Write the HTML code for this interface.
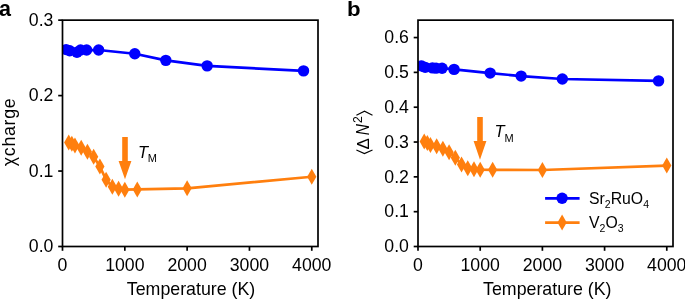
<!DOCTYPE html><html><head><meta charset="utf-8"><style>html,body{margin:0;padding:0;background:#fff;}svg{display:block;will-change:transform;}text{font-family:"Liberation Sans", sans-serif;fill:#000;}</style></head><body>
<svg width="685" height="299" viewBox="0 0 685 299">
<rect width="685" height="299" fill="#fff"/>
<text x="-1.0" y="15.7" font-size="21.5" font-weight="bold">a</text>
<text transform="translate(346.9,15.7) scale(1.07,1)" font-size="20.8" font-weight="bold">b</text>
<line x1="62.5" y1="246.5" x2="62.5" y2="250.8" stroke="#000" stroke-width="1.7"/>
<text x="62.5" y="271.4" text-anchor="middle" font-size="17.7">0</text>
<line x1="124.82" y1="246.5" x2="124.82" y2="250.8" stroke="#000" stroke-width="1.7"/>
<text x="124.82" y="271.4" text-anchor="middle" font-size="17.7">1000</text>
<line x1="187.13" y1="246.5" x2="187.13" y2="250.8" stroke="#000" stroke-width="1.7"/>
<text x="187.13" y="271.4" text-anchor="middle" font-size="17.7">2000</text>
<line x1="249.45" y1="246.5" x2="249.45" y2="250.8" stroke="#000" stroke-width="1.7"/>
<text x="249.45" y="271.4" text-anchor="middle" font-size="17.7">3000</text>
<line x1="311.77" y1="246.5" x2="311.77" y2="250.8" stroke="#000" stroke-width="1.7"/>
<text x="311.77" y="271.4" text-anchor="middle" font-size="17.7">4000</text>
<line x1="58.2" y1="246.5" x2="62.5" y2="246.5" stroke="#000" stroke-width="1.7"/>
<text x="53.4" y="252.2" text-anchor="end" font-size="17.7">0.0</text>
<line x1="58.2" y1="171.05" x2="62.5" y2="171.05" stroke="#000" stroke-width="1.7"/>
<text x="53.4" y="176.75" text-anchor="end" font-size="17.7">0.1</text>
<line x1="58.2" y1="95.6" x2="62.5" y2="95.6" stroke="#000" stroke-width="1.7"/>
<text x="53.4" y="101.3" text-anchor="end" font-size="17.7">0.2</text>
<line x1="58.2" y1="20.15" x2="62.5" y2="20.15" stroke="#000" stroke-width="1.7"/>
<text x="53.4" y="25.85" text-anchor="end" font-size="17.7">0.3</text>
<text x="191.05" y="294.5" text-anchor="middle" font-size="17.8">Temperature (K)</text>
<defs><clipPath id="ca"><rect x="62.5" y="20.15" width="255.5" height="226.35"/></clipPath><clipPath id="cb"><rect x="418.0" y="20.15" width="255" height="226.35"/></clipPath></defs>
<g clip-path="url(#ca)">
<polyline points="68.73,142.53 71.85,143.74 74.96,145.55 81.2,147.66 87.43,151.73 93.66,156.71 99.89,166.6 106.12,179.73 112.35,186.74 118.59,188.71 124.82,189.69 137.28,189.38 187.13,188.33 311.77,176.78" fill="none" stroke="#ff7f0e" stroke-width="2.7" stroke-linejoin="round"/>
<polygon points="68.73,134.53 73.33,142.53 68.73,150.53 64.13,142.53" fill="#ff7f0e"/>
<polygon points="71.85,135.74 76.45,143.74 71.85,151.74 67.25,143.74" fill="#ff7f0e"/>
<polygon points="74.96,137.55 79.56,145.55 74.96,153.55 70.36,145.55" fill="#ff7f0e"/>
<polygon points="81.2,139.66 85.8,147.66 81.2,155.66 76.6,147.66" fill="#ff7f0e"/>
<polygon points="87.43,143.73 92.03,151.73 87.43,159.73 82.83,151.73" fill="#ff7f0e"/>
<polygon points="93.66,148.71 98.26,156.71 93.66,164.71 89.06,156.71" fill="#ff7f0e"/>
<polygon points="99.89,158.6 104.49,166.6 99.89,174.6 95.29,166.6" fill="#ff7f0e"/>
<polygon points="106.12,171.73 110.72,179.73 106.12,187.73 101.52,179.73" fill="#ff7f0e"/>
<polygon points="112.35,178.74 116.95,186.74 112.35,194.74 107.75,186.74" fill="#ff7f0e"/>
<polygon points="118.59,180.71 123.19,188.71 118.59,196.71 113.99,188.71" fill="#ff7f0e"/>
<polygon points="124.82,181.69 129.42,189.69 124.82,197.69 120.22,189.69" fill="#ff7f0e"/>
<polygon points="137.28,181.38 141.88,189.38 137.28,197.38 132.68,189.38" fill="#ff7f0e"/>
<polygon points="187.13,180.33 191.73,188.33 187.13,196.33 182.53,188.33" fill="#ff7f0e"/>
<polygon points="311.77,168.78 316.37,176.78 311.77,184.78 307.17,176.78" fill="#ff7f0e"/>
<polyline points="66.11,49.58 69.73,50.71 76.96,52.22 80.57,49.95 86.62,50.03 98.64,50.03 134.79,53.73 165.82,60.36 207.14,65.87 303.54,70.85" fill="none" stroke="#0000ff" stroke-width="2.7" stroke-linejoin="round"/>
<circle cx="66.11" cy="49.58" r="5.7" fill="#0000ff"/>
<circle cx="69.73" cy="50.71" r="5.7" fill="#0000ff"/>
<circle cx="76.96" cy="52.22" r="5.7" fill="#0000ff"/>
<circle cx="80.57" cy="49.95" r="5.7" fill="#0000ff"/>
<circle cx="86.62" cy="50.03" r="5.7" fill="#0000ff"/>
<circle cx="98.64" cy="50.03" r="5.7" fill="#0000ff"/>
<circle cx="134.79" cy="53.73" r="5.7" fill="#0000ff"/>
<circle cx="165.82" cy="60.36" r="5.7" fill="#0000ff"/>
<circle cx="207.14" cy="65.87" r="5.7" fill="#0000ff"/>
<circle cx="303.54" cy="70.85" r="5.7" fill="#0000ff"/>
</g>
<rect x="62.5" y="20.15" width="255.5" height="226.35" fill="none" stroke="#000" stroke-width="1.7"/>
<polygon points="122.2,137.0 127.8,137.0 127.8,161.0 131.4,161.0 125,179.3 118.6,161.0 122.2,161.0" fill="#ff7f0e"/>
<text x="138.1" y="157.7" font-size="16.5" font-style="italic">T</text>
<text x="147.8" y="162.3" font-size="11">M</text>
<text transform="translate(15,131.9) rotate(-90)" text-anchor="middle" font-size="17.8" letter-spacing="0.72">χcharge</text>
<line x1="418" y1="246.5" x2="418" y2="250.8" stroke="#000" stroke-width="1.7"/>
<text x="418" y="271.4" text-anchor="middle" font-size="17.7">0</text>
<line x1="480.2" y1="246.5" x2="480.2" y2="250.8" stroke="#000" stroke-width="1.7"/>
<text x="480.2" y="271.4" text-anchor="middle" font-size="17.7">1000</text>
<line x1="542.39" y1="246.5" x2="542.39" y2="250.8" stroke="#000" stroke-width="1.7"/>
<text x="542.39" y="271.4" text-anchor="middle" font-size="17.7">2000</text>
<line x1="604.59" y1="246.5" x2="604.59" y2="250.8" stroke="#000" stroke-width="1.7"/>
<text x="604.59" y="271.4" text-anchor="middle" font-size="17.7">3000</text>
<line x1="666.78" y1="246.5" x2="666.78" y2="250.8" stroke="#000" stroke-width="1.7"/>
<text x="666.78" y="271.4" text-anchor="middle" font-size="17.7">4000</text>
<line x1="413.7" y1="246.5" x2="418.0" y2="246.5" stroke="#000" stroke-width="1.7"/>
<text x="408.9" y="252.2" text-anchor="end" font-size="17.7">0.0</text>
<line x1="413.7" y1="211.68" x2="418.0" y2="211.68" stroke="#000" stroke-width="1.7"/>
<text x="408.9" y="217.38" text-anchor="end" font-size="17.7">0.1</text>
<line x1="413.7" y1="176.85" x2="418.0" y2="176.85" stroke="#000" stroke-width="1.7"/>
<text x="408.9" y="182.55" text-anchor="end" font-size="17.7">0.2</text>
<line x1="413.7" y1="142.03" x2="418.0" y2="142.03" stroke="#000" stroke-width="1.7"/>
<text x="408.9" y="147.73" text-anchor="end" font-size="17.7">0.3</text>
<line x1="413.7" y1="107.21" x2="418.0" y2="107.21" stroke="#000" stroke-width="1.7"/>
<text x="408.9" y="112.91" text-anchor="end" font-size="17.7">0.4</text>
<line x1="413.7" y1="72.38" x2="418.0" y2="72.38" stroke="#000" stroke-width="1.7"/>
<text x="408.9" y="78.08" text-anchor="end" font-size="17.7">0.5</text>
<line x1="413.7" y1="37.56" x2="418.0" y2="37.56" stroke="#000" stroke-width="1.7"/>
<text x="408.9" y="43.26" text-anchor="end" font-size="17.7">0.6</text>
<text x="547.3" y="294.5" text-anchor="middle" font-size="17.8">Temperature (K)</text>
<g clip-path="url(#cb)">
<polyline points="424.22,141.58 427.33,143.01 430.44,144.99 436.66,146.21 442.88,148.68 449.1,152.3 455.32,157.7 461.54,164.56 467.76,168.15 473.98,169.16 480.2,169.75 492.63,169.78 542.39,169.99 666.78,165.61" fill="none" stroke="#ff7f0e" stroke-width="2.7" stroke-linejoin="round"/>
<polygon points="424.22,133.58 428.82,141.58 424.22,149.58 419.62,141.58" fill="#ff7f0e"/>
<polygon points="427.33,135.01 431.93,143.01 427.33,151.01 422.73,143.01" fill="#ff7f0e"/>
<polygon points="430.44,136.99 435.04,144.99 430.44,152.99 425.84,144.99" fill="#ff7f0e"/>
<polygon points="436.66,138.21 441.26,146.21 436.66,154.21 432.06,146.21" fill="#ff7f0e"/>
<polygon points="442.88,140.68 447.48,148.68 442.88,156.68 438.28,148.68" fill="#ff7f0e"/>
<polygon points="449.1,144.3 453.7,152.3 449.1,160.3 444.5,152.3" fill="#ff7f0e"/>
<polygon points="455.32,149.7 459.92,157.7 455.32,165.7 450.72,157.7" fill="#ff7f0e"/>
<polygon points="461.54,156.56 466.14,164.56 461.54,172.56 456.94,164.56" fill="#ff7f0e"/>
<polygon points="467.76,160.15 472.36,168.15 467.76,176.15 463.16,168.15" fill="#ff7f0e"/>
<polygon points="473.98,161.16 478.58,169.16 473.98,177.16 469.38,169.16" fill="#ff7f0e"/>
<polygon points="480.2,161.75 484.8,169.75 480.2,177.75 475.6,169.75" fill="#ff7f0e"/>
<polygon points="492.63,161.78 497.23,169.78 492.63,177.78 488.03,169.78" fill="#ff7f0e"/>
<polygon points="542.39,161.99 546.99,169.99 542.39,177.99 537.79,169.99" fill="#ff7f0e"/>
<polygon points="666.78,157.61 671.38,165.61 666.78,173.61 662.18,165.61" fill="#ff7f0e"/>
<polyline points="421.61,65.94 425.21,67.34 432.43,67.86 436.04,68.1 442.07,68.21 454.07,69.39 490.15,73.08 521.12,76.08 562.35,79 658.57,80.88" fill="none" stroke="#0000ff" stroke-width="2.7" stroke-linejoin="round"/>
<circle cx="421.61" cy="65.94" r="5.7" fill="#0000ff"/>
<circle cx="425.21" cy="67.34" r="5.7" fill="#0000ff"/>
<circle cx="432.43" cy="67.86" r="5.7" fill="#0000ff"/>
<circle cx="436.04" cy="68.1" r="5.7" fill="#0000ff"/>
<circle cx="442.07" cy="68.21" r="5.7" fill="#0000ff"/>
<circle cx="454.07" cy="69.39" r="5.7" fill="#0000ff"/>
<circle cx="490.15" cy="73.08" r="5.7" fill="#0000ff"/>
<circle cx="521.12" cy="76.08" r="5.7" fill="#0000ff"/>
<circle cx="562.35" cy="79" r="5.7" fill="#0000ff"/>
<circle cx="658.57" cy="80.88" r="5.7" fill="#0000ff"/>
</g>
<rect x="418.0" y="20.15" width="255" height="226.35" fill="none" stroke="#000" stroke-width="1.7"/>
<polygon points="477.2,117.1 482.8,117.1 482.8,141.1 486.4,141.1 480,159.8 473.6,141.1 477.2,141.1" fill="#ff7f0e"/>
<text x="494.5" y="137.1" font-size="16.5" font-style="italic">T</text>
<text x="504.5" y="141.8" font-size="11">M</text>
<polyline points="356.4,150 364.4,153.6 372.5,150" fill="none" stroke="#000" stroke-width="1.1"/>
<polyline points="356.4,115.2 364.5,111.2 372.5,115.2" fill="none" stroke="#000" stroke-width="1.1"/>
<g transform="translate(369.2,154.5) rotate(-90)"><text x="5.1" y="0" font-size="17">Δ</text><text transform="translate(19.8,0) scale(0.88,1)" x="-0.54" y="0" font-size="17.5" font-style="italic">N</text><text x="31.4" y="-7.0" font-size="12.2">2</text></g>
<line x1="545.1" y1="198.3" x2="579.6" y2="198.3" stroke="#0000ff" stroke-width="2.7"/>
<circle cx="562.1" cy="198.3" r="5.7" fill="#0000ff"/>
<line x1="545.1" y1="222.6" x2="579.6" y2="222.6" stroke="#ff7f0e" stroke-width="2.7"/>
<polygon points="562.1,214.6 566.7,222.6 562.1,230.6 557.5,222.6" fill="#ff7f0e"/>
<text x="589" y="204.3" font-size="15.8">Sr<tspan font-size="10.5" dy="3.5">2</tspan><tspan dy="-3.5">RuO</tspan><tspan font-size="10.5" dy="3.5">4</tspan></text>
<text x="589" y="228.3" font-size="15.8">V<tspan font-size="10.5" dy="3.5">2</tspan><tspan dy="-3.5">O</tspan><tspan font-size="10.5" dy="3.5">3</tspan></text>
</svg></body></html>
